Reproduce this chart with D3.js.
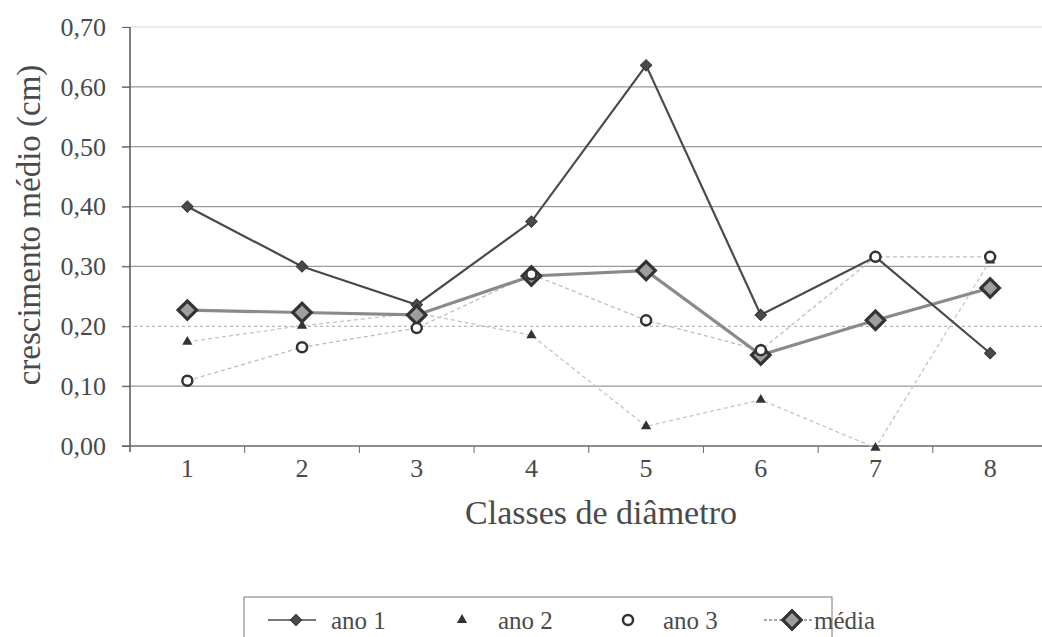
<!DOCTYPE html>
<html>
<head>
<meta charset="utf-8">
<script src="https://cdn.jsdelivr.net/npm/d3@7"></script>
<style>
  body { margin: 0; background: #fff; }
  text { font-family: "Liberation Serif", "DejaVu Serif", serif; fill: #4a4a4a; }
</style>
</head>
<body>
<svg id="chart" width="1042" height="637"></svg>
<script>
// categories and series
const classes = [1, 2, 3, 4, 5, 6, 7, 8];
const ano1  = [0.40, 0.30, 0.236, 0.375, 0.636, 0.219, 0.316, 0.155];
const ano2  = [0.174, 0.201, 0.222, 0.185, 0.033, 0.077, -0.003, 0.31];
const ano3  = [0.109, 0.165, 0.197, 0.287, 0.21, 0.16, 0.316, 0.316];
const media = [0.227, 0.223, 0.219, 0.284, 0.293, 0.152, 0.21, 0.264];
const yTicks = [0, 0.1, 0.2, 0.3, 0.4, 0.5, 0.6, 0.7];

const svg = d3.select('#chart');

const x = d3.scaleBand().domain(classes).range([130, 1047.5]);
const y = d3.scaleLinear().domain([0, 0.7]).range([446, 27]);
const cx = d => x(d) + x.bandwidth() / 2;
const fmt = v => d3.format('.2f')(v).replace('.', ',');

// gridlines
svg.append('g').selectAll('line').data(yTicks.filter(t => t > 0)).join('line')
  .attr('x1', 122).attr('x2', 1042)
  .attr('y1', d => y(d)).attr('y2', d => y(d))
  .attr('stroke', d => d === 0.7 ? '#e6e6e6' : (d === 0.2 ? '#b8b8b8' : '#9a9a9a'))
  .attr('stroke-width', 1.3)
  .attr('stroke-dasharray', d => d === 0.2 ? '3,3' : null);

// y axis
const yAxisG = svg.append('g').attr('transform', 'translate(130,0)')
  .call(d3.axisLeft(y).tickValues(yTicks).tickFormat(fmt).tickSize(8).tickPadding(16));
yAxisG.attr('font-family', null);
yAxisG.select('.domain').attr('stroke', '#555').attr('stroke-width', 1.5).attr('d', 'M0,27V452');
yAxisG.selectAll('.tick line').attr('stroke', '#666');
yAxisG.selectAll('.tick text').attr('font-size', 26).attr('fill', '#4a4a4a');

// x axis
const xAxisG = svg.append('g').attr('transform', 'translate(0,446)')
  .call(d3.axisBottom(x).tickSize(0).tickPadding(13));
xAxisG.attr('font-family', null);
xAxisG.select('.domain').attr('stroke', '#666').attr('stroke-width', 1.3).attr('d', 'M122,0H1042');
xAxisG.selectAll('.tick text').attr('font-size', 26).attr('fill', '#4a4a4a');
svg.append('g').selectAll('line').data(classes).join('line')
  .attr('x1', d => x(d) + x.bandwidth()).attr('x2', d => x(d) + x.bandwidth())
  .attr('y1', 446).attr('y2', 453).attr('stroke', '#666');

// axis titles
svg.append('text').attr('transform', 'translate(40,225) rotate(-90)')
  .attr('text-anchor', 'middle').attr('font-size', 33).text('crescimento médio (cm)');
svg.append('text').attr('x', 601).attr('y', 524)
  .attr('text-anchor', 'middle').attr('font-size', 34).text('Classes de diâmetro');

// series
const series = [
  { name: 'ano 2', values: ano2, stroke: '#c4c4c4', width: 1.3, dash: '4,3' },
  { name: 'ano 3', values: ano3, stroke: '#bdbdbd', width: 1.3, dash: '4,3' },
  { name: 'média', values: media, stroke: '#8a8a8a', width: 3.2, dash: null },
  { name: 'ano 1', values: ano1, stroke: '#4a4a4a', width: 2.2, dash: null }
];
const line = d3.line().x((v, i) => cx(classes[i])).y(v => y(v));

series.forEach(s => {
  svg.append('path').attr('d', line(s.values))
    .attr('fill', 'none').attr('stroke', s.stroke)
    .attr('stroke-width', s.width).attr('stroke-dasharray', s.dash);
});

const tri = d3.symbol().type(d3.symbolTriangle).size(45);
const sq = d3.symbol().type(d3.symbolSquare);

function drawMarker(g, name, px, py) {
  if (name === 'ano 1') {
    g.append('path').attr('d', sq.size(64)()).attr('transform', `translate(${px},${py}) rotate(45)`)
      .attr('fill', '#4a4a4a').attr('stroke', '#333').attr('stroke-width', 1);
  } else if (name === 'ano 2') {
    g.append('path').attr('d', tri()).attr('transform', `translate(${px},${py})`)
      .attr('fill', '#333');
  } else if (name === 'ano 3') {
    g.append('circle').attr('cx', px).attr('cy', py).attr('r', 5)
      .attr('fill', '#fff').attr('stroke', '#333').attr('stroke-width', 2.5);
  } else {
    g.append('path').attr('d', sq.size(170)()).attr('transform', `translate(${px},${py}) rotate(45)`)
      .attr('fill', '#9e9e9e').attr('stroke', '#333').attr('stroke-width', 3.2);
  }
}

const markerOrder = ['ano 2', 'ano 1', 'média', 'ano 3'];
markerOrder.forEach(n => {
  const s = series.find(d => d.name === n);
  const g = svg.append('g');
  s.values.forEach((v, i) => drawMarker(g, n, cx(classes[i]), y(v)));
});

// legend
const legend = svg.append('g');
legend.append('rect').attr('x', 244).attr('y', 597).attr('width', 588).attr('height', 60)
  .attr('fill', '#fff').attr('stroke', '#777').attr('stroke-width', 1);
const legendItems = [
  { name: 'ano 1', sym: 296, text: 331, line: true },
  { name: 'ano 2', sym: 462, text: 498, line: false },
  { name: 'ano 3', sym: 628, text: 663, line: false },
  { name: 'média', sym: 792, text: 814, line: true }
];
legendItems.forEach(it => {
  const s = series.find(d => d.name === it.name);
  if (it.line) {
    legend.append('line').attr('x1', it.sym - 28).attr('x2', it.sym + 20)
      .attr('y1', 620).attr('y2', 620).attr('stroke', s.stroke)
      .attr('stroke-width', 1.5)
      .attr('stroke-dasharray', it.name === 'média' ? '3,2' : null);
  }
  drawMarker(legend, it.name, it.sym, 620);
  legend.append('text').attr('x', it.text).attr('y', 629).attr('font-size', 25).text(it.name);
});
</script>
</body>
</html>
